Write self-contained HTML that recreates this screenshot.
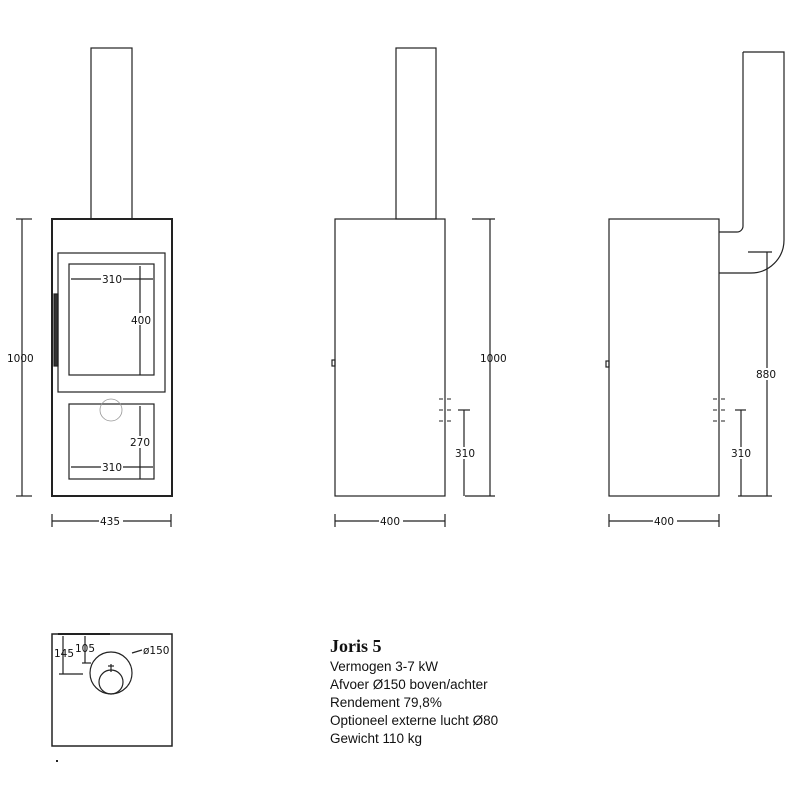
<!DOCTYPE html>
<html><head><style>
body{margin:0;background:#fff}
svg text{font-family:"DejaVu Sans","Liberation Sans",sans-serif;font-size:10.5px;fill:#111}
svg text.info{font-family:"Liberation Sans",sans-serif;font-size:13.5px}
svg text.title{font-family:"Liberation Serif",serif;font-size:18px;font-weight:bold}
</style></head><body>
<svg width="800" height="800" viewBox="0 0 800 800" xmlns="http://www.w3.org/2000/svg" fill="none" stroke="#222" stroke-width="1.2">
<!-- Front view -->
<rect x="91" y="48" width="41" height="171"/>
<rect x="52" y="219" width="120" height="277" stroke-width="2"/>
<rect x="58" y="253" width="107" height="139"/>
<rect x="69" y="264" width="85" height="111"/>
<rect x="54" y="294" width="4" height="72" fill="#333"/>
<rect x="69" y="404" width="85" height="75"/>
<circle cx="111" cy="410" r="11" stroke="#999" stroke-width="0.8"/>
<line x1="71" y1="279" x2="153" y2="279"/><line x1="71" y1="467" x2="153" y2="467"/>
<line x1="140" y1="266" x2="140" y2="375"/><line x1="140" y1="406" x2="140" y2="479"/>
<line x1="22" y1="219" x2="22" y2="496"/><line x1="16" y1="219" x2="32" y2="219"/><line x1="16" y1="496" x2="32" y2="496"/>
<line x1="52" y1="521" x2="171" y2="521"/><line x1="52" y1="514" x2="52" y2="527"/><line x1="171" y1="514" x2="171" y2="527"/>
<g stroke="none">
<rect x="101" y="273" width="22" height="12" fill="#fff"/><text x="102" y="283">310</text>
<rect x="130" y="313" width="22" height="12" fill="#fff"/><text x="131" y="324">400</text>
<rect x="129" y="436" width="22" height="12" fill="#fff"/><text x="130" y="446">270</text>
<rect x="101" y="461" width="22" height="12" fill="#fff"/><text x="102" y="471">310</text>
<text x="7" y="362">1000</text>
<rect x="99" y="515" width="24" height="12" fill="#fff"/><text x="100" y="525">435</text>
</g>
<!-- Middle view -->
<rect x="396" y="48" width="40" height="171"/>
<rect x="335" y="219" width="110" height="277"/>
<rect x="332" y="360" width="3" height="6"/>
<g stroke-width="1"><line x1="439" y1="399" x2="443" y2="399"/><line x1="447" y1="399" x2="451" y2="399"/>
<line x1="439" y1="410" x2="443" y2="410"/><line x1="447" y1="410" x2="451" y2="410"/>
<line x1="439" y1="421" x2="443" y2="421"/><line x1="447" y1="421" x2="451" y2="421"/></g>
<line x1="490" y1="219" x2="490" y2="496"/><line x1="472" y1="219" x2="495" y2="219"/><line x1="465" y1="496" x2="495" y2="496"/>
<line x1="464" y1="410" x2="464" y2="496"/><line x1="458" y1="410" x2="470" y2="410"/>
<line x1="335" y1="521" x2="445" y2="521"/><line x1="335" y1="514" x2="335" y2="527"/><line x1="445" y1="514" x2="445" y2="527"/>
<g stroke="none">
<text x="480" y="362">1000</text>
<rect x="454" y="447" width="22" height="12" fill="#fff"/><text x="455" y="457">310</text>
<rect x="379" y="515" width="24" height="12" fill="#fff"/><text x="380" y="525">400</text>
</g>
<!-- Right view -->
<path d="M743 52 H784 V240 A33 33 0 0 1 751 273 H719"/>
<path d="M743 52 V226 A6 6 0 0 1 737 232 H719"/>
<rect x="609" y="219" width="110" height="277"/>
<rect x="606" y="361" width="3" height="6"/>
<g stroke-width="1"><line x1="713" y1="399" x2="717" y2="399"/><line x1="721" y1="399" x2="725" y2="399"/>
<line x1="713" y1="410" x2="717" y2="410"/><line x1="721" y1="410" x2="725" y2="410"/>
<line x1="713" y1="421" x2="717" y2="421"/><line x1="721" y1="421" x2="725" y2="421"/></g>
<line x1="767" y1="252" x2="767" y2="496"/><line x1="748" y1="252" x2="772" y2="252"/><line x1="738" y1="496" x2="772" y2="496"/>
<line x1="741" y1="410" x2="741" y2="496"/><line x1="735" y1="410" x2="746" y2="410"/>
<line x1="609" y1="521" x2="719" y2="521"/><line x1="609" y1="514" x2="609" y2="527"/><line x1="719" y1="514" x2="719" y2="527"/>
<g stroke="none">
<rect x="755" y="368" width="24" height="12" fill="#fff"/><text x="756" y="378">880</text>
<rect x="730" y="447" width="22" height="12" fill="#fff"/><text x="731" y="457">310</text>
<rect x="653" y="515" width="24" height="12" fill="#fff"/><text x="654" y="525">400</text>
</g>
<!-- Top view -->
<rect x="52" y="634" width="120" height="112" stroke-width="1.5"/>
<line x1="58" y1="634" x2="110" y2="634" stroke-width="2"/>
<circle cx="111" cy="673" r="21"/>
<circle cx="111" cy="682" r="12"/>
<line x1="111" y1="664" x2="111" y2="672"/><line x1="108" y1="666" x2="114" y2="666"/>
<line x1="63" y1="636" x2="63" y2="674"/><line x1="59" y1="674" x2="83" y2="674"/>
<line x1="85" y1="636" x2="85" y2="663"/><line x1="82" y1="663" x2="91" y2="663"/>
<line x1="132" y1="653" x2="142" y2="650"/>
<rect x="56" y="760" width="2" height="2" fill="#222" stroke="none"/>
<g stroke="none">
<text x="54" y="657">145</text>
<text x="75" y="652">105</text>
<text x="143" y="654">ø150</text>
<text class="title" x="330" y="652">Joris 5</text>
<text class="info" x="330" y="671">Vermogen 3-7 kW</text>
<text class="info" x="330" y="689">Afvoer Ø150 boven/achter</text>
<text class="info" x="330" y="707">Rendement 79,8%</text>
<text class="info" x="330" y="725">Optioneel externe lucht Ø80</text>
<text class="info" x="330" y="743">Gewicht 110 kg</text>
</g>
</svg>
</body></html>
